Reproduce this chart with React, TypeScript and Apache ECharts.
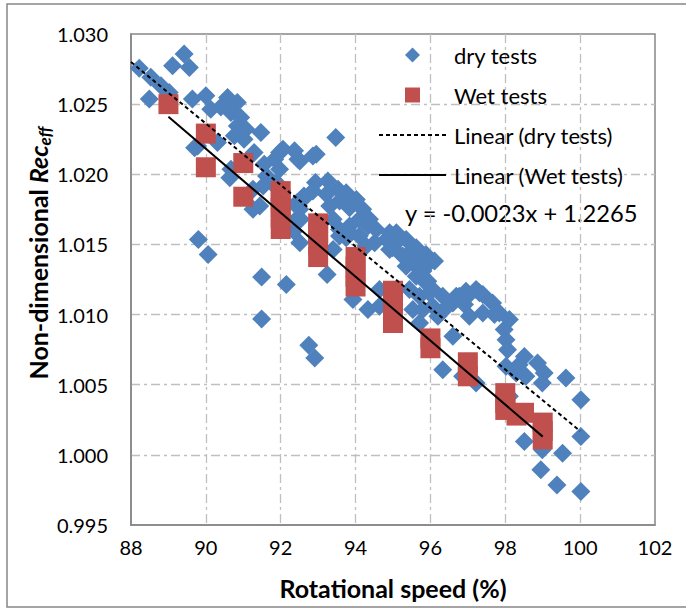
import React, { useEffect, useRef } from "react";
import * as echarts from "echarts";

// Rotational speed (%) vs non-dimensional Rec_eff
const dryTests: [number, number][] = [
  [88.22, 1.02755], [88.53, 1.02691], [88.8, 1.02631], [89.02, 1.02583], [88.49, 1.02536],
  [89.42, 1.02857], [89.11, 1.02774], [89.56, 1.02762],
  [89.64, 1.02536], [90.0, 1.02559], [90.13, 1.02464], [90.4, 1.02479], [90.58, 1.02548], [90.84, 1.02512],
  [90.67, 1.0244], [90.93, 1.02405], [90.84, 1.02345], [91.07, 1.02321], [91.47, 1.02298], [90.76, 1.02274],
  [91.02, 1.0225], [91.29, 1.02155], [91.56, 1.02071], [89.78, 1.02202], [90.31, 1.02226], [90.67, 1.02036],
  [89.7, 1.0219], [90.64, 1.01976], [91.26, 1.01893], [91.97, 1.02155], [92.46, 1.02107], [92.86, 1.0213],
  [91.62, 1.01988], [91.89, 1.01941], [91.44, 1.01774], [91.26, 1.0175], [92.46, 1.01774], [92.51, 1.01512],
  [89.8, 1.01536], [90.06, 1.01429], [91.49, 1.01267], [92.15, 1.01214], [91.49, 1.00969], [92.75, 1.00781],
  [92.91, 1.00691], [93.24, 1.01286], [92.93, 1.01941], [92.62, 1.01845], [92.44, 1.01798], [92.53, 1.01679],
  [92.35, 1.01595], [93.47, 1.02262], [92.06, 1.02179], [92.37, 1.02167], [92.95, 1.02143], [92.51, 1.02095],
  [91.84, 1.02107], [91.97, 1.02036], [91.75, 1.01941], [91.53, 1.01917], [93.26, 1.01952], [93.53, 1.01893],
  [93.75, 1.01869], [94.02, 1.01821], [93.84, 1.01762], [94.19, 1.0175], [94.37, 1.01679], [94.1, 1.01679],
  [93.57, 1.0181], [93.22, 1.01857], [92.86, 1.0188], [92.59, 1.01821], [92.51, 1.0175], [92.42, 1.01679],
  [93.31, 1.01774], [93.4, 1.01679], [93.57, 1.01607], [93.84, 1.01583], [93.75, 1.01548], [94.55, 1.01607],
  [94.91, 1.01583], [94.82, 1.01536], [94.28, 1.01488], [93.93, 1.01107], [94.33, 1.01036], [94.64, 1.0106],
  [95.17, 1.01536], [95.53, 1.01464], [95.71, 1.01417], [95.97, 1.01369], [94.91, 1.01464], [95.35, 1.01345],
  [95.62, 1.01274], [95.88, 1.01226], [95.71, 1.01131], [96.06, 1.0106], [95.53, 1.01036], [95.71, 1.0094],
  [96.33, 1.01131], [96.6, 1.01083], [96.77, 1.01131], [96.33, 1.00607], [94.33, 1.01631], [94.51, 1.01512],
  [95.09, 1.01583], [95.35, 1.01536], [95.62, 1.01476], [95.88, 1.01429], [96.11, 1.01381], [94.99, 1.01476],
  [95.26, 1.01417], [95.53, 1.01369], [95.8, 1.0131], [95.93, 1.01238], [95.44, 1.01179], [96.06, 1.01179],
  [96.69, 1.01131], [96.95, 1.01167], [97.22, 1.01179], [97.4, 1.01143], [97.66, 1.01083], [97.84, 1.01012],
  [98.11, 1.00964], [96.91, 1.01071], [96.42, 1.01048], [96.2, 1.00988], [95.8, 1.01036], [94.64, 1.01179],
  [95.84, 1.0125], [95.97, 1.01155], [96.95, 1.0112], [97.31, 1.01155], [97.04, 1.00988], [97.4, 1.01012],
  [97.71, 1.01], [97.97, 1.00893], [98.02, 1.00821], [98.06, 1.0075], [96.6, 1.00845], [97.22, 1.00512],
  [96.86, 1.0056], [98.51, 1.00702], [98.86, 1.00655], [99.04, 1.00583], [98.02, 1.00631], [98.29, 1.00583],
  [98.55, 1.0056], [98.99, 1.00512], [99.62, 1.00548], [100.02, 1.00393], [98.51, 1.00095], [98.99, 1.00036],
  [99.53, 1.00012], [100.02, 1.00131], [98.95, 0.99893], [99.38, 0.99786], [100.02, 0.99738], [98.11, 1.00417],
  [98.37, 1.00643], [93.57, 1.0156], [93.84, 1.01631], [94.1, 1.0156], [93.4, 1.01464],
];

const wetTests: [number, number][] = [
  [89, 1.025], [90, 1.0229], [90, 1.0205], [91, 1.0208], [91, 1.0184],
  [92, 1.0188], [92, 1.0182], [92, 1.0176], [92, 1.0169], [92, 1.0161],
  [93, 1.0165], [93, 1.0158], [93, 1.015], [93, 1.0141],
  [94, 1.0141], [94, 1.0134], [94, 1.0127], [94, 1.012],
  [95, 1.0117], [95, 1.011], [95, 1.0102], [95, 1.0094],
  [96, 1.0083], [96, 1.0076],
  [97, 1.0066], [97, 1.0056],
  [98, 1.0044], [98, 1.0037], [98, 1.0032],
  [98.3, 1.0028], [98.5, 1.003],
  [99, 1.0023], [99, 1.0017], [99, 1.0011],
];

const dryTrend: [number, number][] = [[88, 1.028], [100, 1.0017]];
const wetTrend: [number, number][] = [[89, 1.0241], [99, 1.0013]];

const xTicks = { min: 88, max: 102, interval: 2 };
const yTicks = { min: 0.995, max: 1.03, interval: 0.005 };

const seriesNames = ["dry tests", "Wet tests", "Linear (dry tests)", "Linear (Wet tests)"];
const equationText = "y = -0.0023x + 1.2265";
const xTitle = "Rotational speed (%)";
const yTitle = "{b|Non-dimensional }{i|Rec}{s|eff}";

const FONT = "Lato";

export default function App() {
  const ref = useRef<HTMLDivElement>(null);
  useEffect(() => {
    if (!ref.current) return;
    const chart = echarts.init(ref.current, null, { renderer: "svg" });
    const gridColor = "#BFBFBF";
    const axisColor = "#868686";
    chart.setOption({
      animation: false,
      backgroundColor: "#fff",
      textStyle: { fontFamily: FONT, color: "#000" },
      grid: {
        left: 131, top: 34, right: 31, bottom: 84,
        show: true, borderColor: axisColor, borderWidth: 1.5, backgroundColor: "transparent",
      },
      xAxis: {
        type: "value", min: xTicks.min, max: xTicks.max, interval: xTicks.interval,
        axisLine: { show: true, lineStyle: { color: axisColor, width: 1.5 } },
        axisTick: { show: false },
        axisLabel: { color: "#000", fontSize: 20, fontFamily: FONT, margin: 12 },
        splitLine: { show: true, showMinLine: false, showMaxLine: false, lineStyle: { color: gridColor, width: 1.3, type: [9, 4, 3, 4] } },
        name: xTitle,
        nameLocation: "middle",
        nameGap: 50,
        nameTextStyle: { fontFamily: FONT, fontWeight: "bold", fontSize: 25, color: "#000" },
      },
      yAxis: {
        type: "value", min: yTicks.min, max: yTicks.max, interval: yTicks.interval,
        axisLine: { show: true, lineStyle: { color: axisColor, width: 1.5 } },
        axisTick: { show: false },
        axisLabel: { color: "#000", fontSize: 20, fontFamily: FONT, margin: 23, formatter: (v: number) => v.toFixed(3) },
        splitLine: { show: true, showMinLine: false, showMaxLine: false, lineStyle: { color: gridColor, width: 1.3, type: [9, 4, 3, 4] } },
      },
      legend: {
        orient: "vertical",
        left: 373,
        top: 39,
        itemWidth: 67,
        itemHeight: 15,
        itemGap: 18,
        textStyle: { fontFamily: FONT, fontSize: 22, color: "#000", padding: [0, 0, 0, 3] },
        data: [
          { name: seriesNames[0], icon: "path://M5,0L10,5L5,10L0,5Z" },
          { name: seriesNames[1], icon: "path://M0,0L10,0L10,10L0,10Z" },
          { name: seriesNames[2], itemStyle: { opacity: 0 } },
          { name: seriesNames[3], itemStyle: { opacity: 0 } },
        ],
      },
      graphic: [
        {
          type: "rect", silent: true, z: -10,
          shape: { x: 7, y: 4, width: 690, height: 603 },
          style: { fill: "none", stroke: "#868686", lineWidth: 1.5 },
        },
        {
          type: "text", left: 405, top: 201,
          style: { text: equationText, fontFamily: FONT, fontSize: 23.7, fill: "#000" },
        },
        {
          type: "text", x: 38, y: 253, rotation: Math.PI / 2,
          style: {
            text: yTitle, align: "center", verticalAlign: "middle",
            rich: {
              b: { fontFamily: FONT, fontWeight: "bold", fontSize: 25, fill: "#000", lineHeight: 30 },
              i: { fontFamily: FONT, fontWeight: "bold", fontStyle: "italic", fontSize: 25, fill: "#000", lineHeight: 30 },
              s: { fontFamily: FONT, fontWeight: "bold", fontStyle: "italic", fontSize: 17, fill: "#000", lineHeight: 14, verticalAlign: "bottom" },
            },
          },
        },
      ],
      series: [
        {
          name: seriesNames[0], type: "scatter", data: dryTests,
          symbol: "diamond", symbolSize: 19, itemStyle: { color: "#4F81BD", opacity: 1 }, z: 2,
        },
        {
          name: seriesNames[1], type: "scatter", data: wetTests,
          symbol: "rect", symbolSize: 20, itemStyle: { color: "#C0504D", opacity: 1 }, z: 3,
        },
        {
          name: seriesNames[2], type: "line", data: dryTrend, symbol: "none",
          lineStyle: { color: "#000", width: 2, type: [4, 3] }, itemStyle: { color: "#000" }, z: 4,
        },
        {
          name: seriesNames[3], type: "line", data: wetTrend, symbol: "none",
          lineStyle: { color: "#000", width: 2, type: "solid" }, itemStyle: { color: "#000" }, z: 4,
        },
      ],
    });
    return () => chart.dispose();
  }, []);
  return <div ref={ref} style={{ position: "absolute", left: 0, top: 0, width: 686, height: 609 }} />;
}
